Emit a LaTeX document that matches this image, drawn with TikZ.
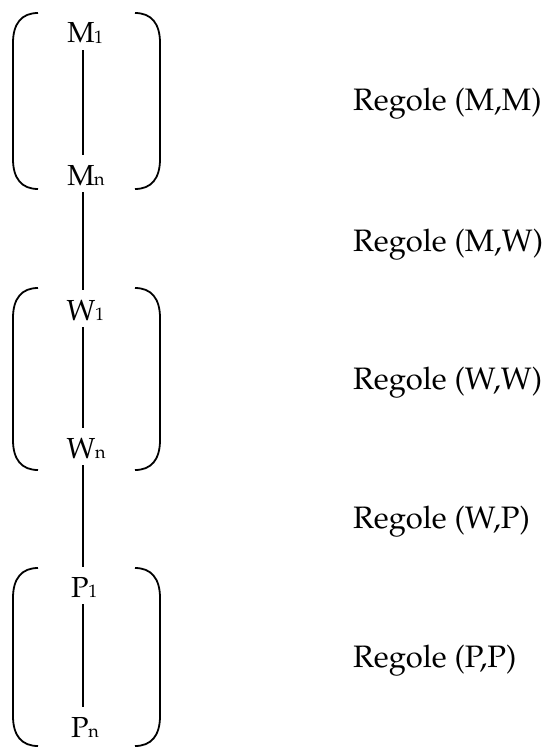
\documentclass[tikz,border=0pt]{standalone}
\usepackage[T1]{fontenc}
\usepackage{mathpazo}
\newcommand{\lbl}[2]{#1\rlap{\kern-0.5pt\fontsize{18}{20}\selectfont\raisebox{-0.5pt}{#2}}}
\begin{document}
\begin{tikzpicture}[x=1pt,y=-1pt,
  lab/.style={font=\fontsize{29}{34}\selectfont, anchor=base, text height=26pt, text depth=3pt, inner xsep=0pt, inner ysep=4pt},
  rule/.style={font=\fontsize{31}{36}\selectfont, anchor=base west, inner sep=0pt},
  conn/.style={line width=1.7pt},
  brk/.style={line width=1.8pt}]
\useasboundingbox (0,0) rectangle (552,749);
% brackets
\foreach \T/\B in {13/189, 288/470, 568/746}{
  \draw[brk] (38,\T) .. controls (22,\T) and (13,\T+10) .. (13,\T+30) -- (13,\B-30) .. controls (13,\B-10) and (22,\B) .. (38,\B);
  \draw[brk] (135,\T) .. controls (151,\T) and (160,\T+10) .. (160,\T+30) -- (160,\B-30) .. controls (160,\B-10) and (151,\B) .. (135,\B);
}
% labels
\node[lab] (M1) at (81,43) {\lbl{M}{1}};
\node[lab] (Mn) at (81,185) {\lbl{M}{n}};
\node[lab] (W1) at (81,320) {\lbl{W}{1}};
\node[lab] (Wn) at (81,458) {\lbl{W}{n}};
\node[lab] (P1) at (80,597) {\lbl{P}{1}};
\node[lab] (Pn) at (80,737) {\lbl{P}{n}};
\coordinate (x) at (83,0);
\draw[conn] (M1.south -| x) -- (Mn.north -| x);
\draw[conn] (Mn.south -| x) -- (W1.north -| x);
\draw[conn] (W1.south -| x) -- (Wn.north -| x);
\draw[conn] (Wn.south -| x) -- (P1.north -| x);
\draw[conn] (P1.south -| x) -- (Pn.north -| x);
% rules
\node[rule] (r1) at (353,111) {Regole (M,M)};
\node[rule] (r2) at (353,251) {Regole (M,W)};
\node[rule] (r3) at (353,389) {Regole (W,W)};
\node[rule] (r4) at (353,528) {Regole (W,P)};
\node[rule] (r5) at (353,667) {Regole (P,P)};
\end{tikzpicture}
\end{document}
